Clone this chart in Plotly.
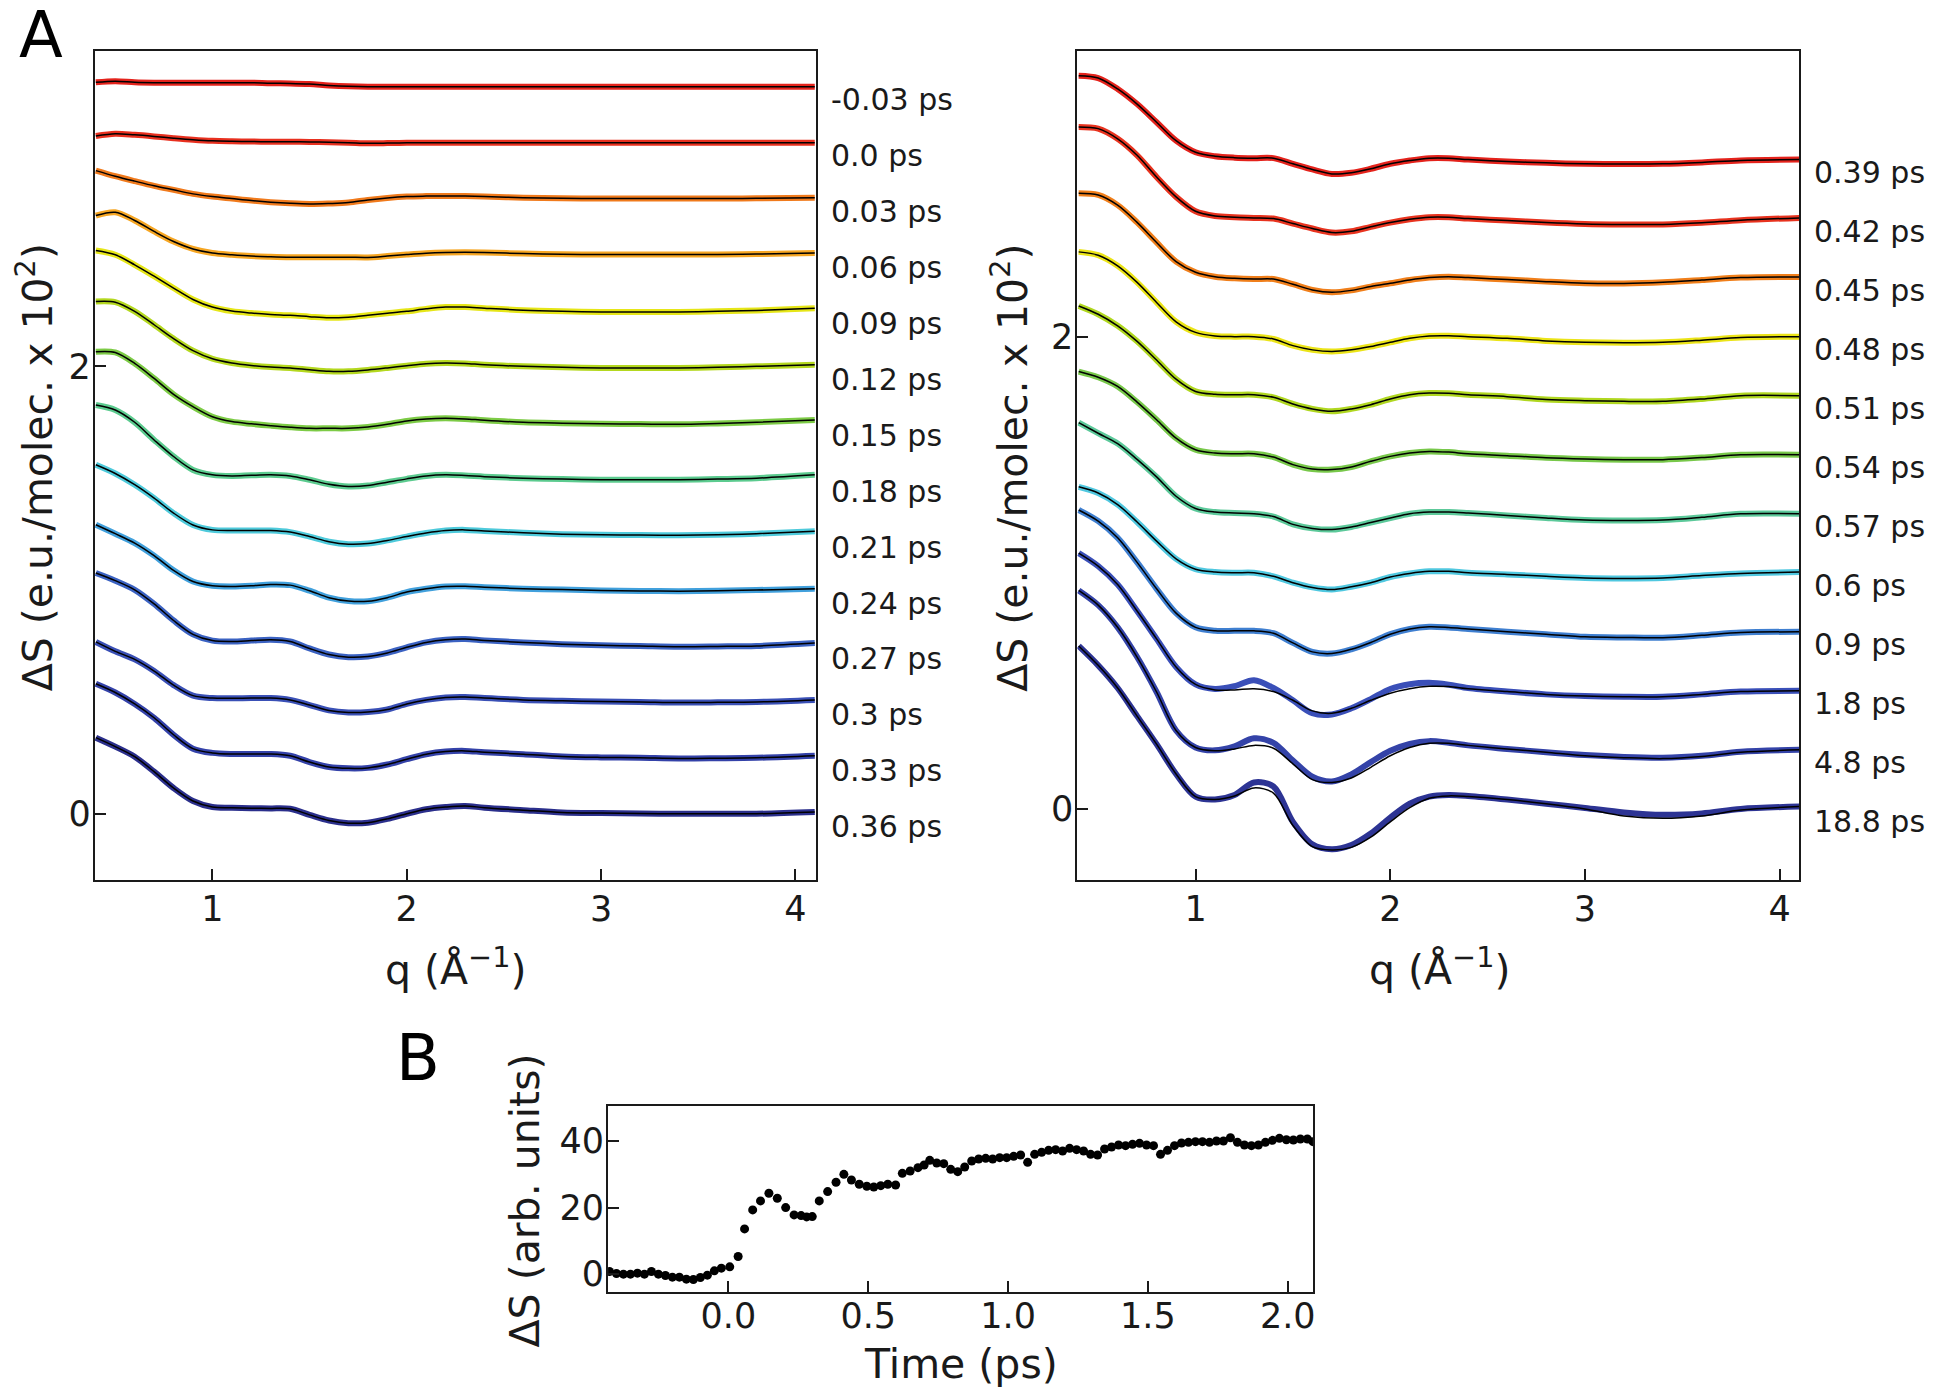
import plotly.graph_objects as go

W, H = 1933, 1391
BODY = 8  # default page margin of the html body
FW, FH = W - BODY, H - BODY
FONT = "DejaVu Sans"

# ---------------- data ----------------
# q knots (1/Angstrom) at which the curves were read off the picture
Q = [0.4, 0.5, 0.6, 0.7, 0.8, 0.9, 1.0, 1.1, 1.2, 1.3, 1.4, 1.5, 1.6, 1.7, 1.8, 1.9,
     2.0, 2.1, 2.2, 2.3, 2.4, 2.6, 2.8, 3.0, 3.2, 3.4, 3.6, 3.8, 4.1]

OFFSET_STEP = 0.25  # vertical stacking step between curves (e.u./molec. x 10^2)

# Left panel, deviation from each curve's own baseline
left_m003 = [0.02, 0.025, 0.02, 0.018, 0.018, 0.018, 0.018, 0.018, 0.018, 0.016, 0.015, 0.012, 0.006, 0.002, 0, 0, 0, 0, 0, 0, 0, 0, 0, 0, 0, 0, 0, 0, 0]
left_p000 = [0.03, 0.04, 0.035, 0.028, 0.02, 0.013, 0.008, 0.006, 0.005, 0.004, 0.004, 0.003, 0.002, 0, -0.003, -0.002, 0, 0, 0, 0, 0, 0, 0, 0, 0, 0, 0, 0, 0]
left_p003 = [0.125, 0.1, 0.078, 0.057, 0.039, 0.021, 0.009, 0, -0.009, -0.016, -0.021, -0.024, -0.022, -0.018, -0.006, 0.003, 0.009, 0.011, 0.012, 0.011, 0.009, 0.004, 0.002, 0, 0, 0, 0, 0.001, 0.004]
left_p006 = [0.174, 0.189, 0.152, 0.103, 0.058, 0.025, 0.007, -0.001, -0.007, -0.01, -0.012, -0.012, -0.012, -0.012, -0.013, -0.007, 0, 0.006, 0.009, 0.01, 0.009, 0.004, 0.001, 0, 0, 0, 0, 0.002, 0.007]
left_p009 = [0.268, 0.249, 0.204, 0.153, 0.1, 0.049, 0.015, -0.003, -0.012, -0.018, -0.022, -0.028, -0.033, -0.03, -0.022, -0.013, -0.004, 0.007, 0.015, 0.015, 0.01, 0.001, -0.004, -0.007, -0.007, -0.007, -0.004, 0, 0.01]
left_p012 = [0.29, 0.287, 0.246, 0.186, 0.124, 0.07, 0.034, 0.015, 0.004, -0.003, -0.007, -0.015, -0.022, -0.022, -0.016, -0.007, 0.003, 0.012, 0.015, 0.013, 0.007, 0, -0.004, -0.007, -0.007, -0.007, -0.004, 0, 0.007]
left_p015 = [0.315, 0.312, 0.263, 0.196, 0.125, 0.07, 0.025, 0.003, -0.007, -0.015, -0.022, -0.027, -0.027, -0.027, -0.021, -0.009, 0.006, 0.015, 0.018, 0.015, 0.009, 0, -0.004, -0.007, -0.008, -0.009, -0.005, 0, 0.01]
left_p018 = [0.327, 0.305, 0.25, 0.171, 0.097, 0.037, 0.015, 0.01, 0.013, 0.015, 0.01, -0.007, -0.027, -0.037, -0.033, -0.018, -0.003, 0.01, 0.015, 0.012, 0.007, 0, -0.004, -0.007, -0.007, -0.007, -0.004, 0, 0.015]
left_p021 = [0.31, 0.271, 0.221, 0.161, 0.094, 0.041, 0.019, 0.016, 0.016, 0.016, 0.009, -0.011, -0.034, -0.045, -0.042, -0.028, -0.011, 0.005, 0.016, 0.019, 0.014, 0.006, 0, -0.003, -0.004, -0.005, -0.003, 0.002, 0.013]
left_p024 = [0.292, 0.252, 0.21, 0.154, 0.088, 0.038, 0.019, 0.016, 0.019, 0.025, 0.022, -0.003, -0.034, -0.049, -0.05, -0.034, -0.009, 0.006, 0.016, 0.017, 0.013, 0.006, 0.002, -0.002, -0.004, -0.005, -0.003, 0, 0.006]
left_p027 = [0.326, 0.292, 0.251, 0.188, 0.114, 0.052, 0.024, 0.02, 0.024, 0.028, 0.02, -0.011, -0.038, -0.05, -0.047, -0.031, -0.006, 0.016, 0.028, 0.031, 0.025, 0.016, 0.008, 0.003, 0, -0.003, -0.002, 0, 0.013]
left_p030 = [0.268, 0.226, 0.19, 0.138, 0.075, 0.028, 0.017, 0.016, 0.017, 0.017, 0.009, -0.014, -0.038, -0.047, -0.045, -0.034, -0.009, 0.009, 0.02, 0.022, 0.017, 0.009, 0.005, 0.002, 0, -0.003, -0.002, 0, 0.009]
left_p033 = [0.331, 0.292, 0.241, 0.179, 0.103, 0.041, 0.022, 0.017, 0.017, 0.017, 0.009, -0.019, -0.041, -0.047, -0.045, -0.03, -0.006, 0.016, 0.028, 0.031, 0.025, 0.016, 0.006, 0.002, 0, -0.003, -0.002, 0, 0.009]
left_p036 = [0.34, 0.3, 0.255, 0.188, 0.115, 0.057, 0.03, 0.027, 0.025, 0.024, 0.022, -0.005, -0.03, -0.042, -0.04, -0.023, 0, 0.02, 0.03, 0.035, 0.027, 0.016, 0.006, 0.003, 0.001, 0, 0, 0, 0.008]

LEFT_LABELS = ["-0.03 ps", "0.0 ps", "0.03 ps", "0.06 ps", "0.09 ps", "0.12 ps", "0.15 ps",
               "0.18 ps", "0.21 ps", "0.24 ps", "0.27 ps", "0.3 ps", "0.33 ps", "0.36 ps"]
LEFT_COLORS = ["#e4231c", "#e8301f", "#f07a1c", "#f6a623", "#e6e618", "#b4d81f", "#7dcb46",
               "#5ccb8f", "#4ecadb", "#41a0dc", "#3b62c2", "#3a50b6", "#3442a9", "#2b2f8c"]
LEFT_DATA = [left_m003, left_p000, left_p003, left_p006, left_p009, left_p012, left_p015,
             left_p018, left_p021, left_p024, left_p027, left_p030, left_p033, left_p036]

# Right panel, deviation from each curve's own baseline (data and fit)
right_039 = [0.355, 0.345, 0.299, 0.235, 0.158, 0.08, 0.031, 0.014, 0.008, 0.006, 0.006, -0.018, -0.042, -0.061, -0.056, -0.039, -0.018, -0.004, 0.006, 0.006, 0, -0.008, -0.014, -0.018, -0.019, -0.018, -0.012, -0.004, 0]
right_042 = [0.388, 0.381, 0.338, 0.268, 0.176, 0.092, 0.031, 0.011, 0.006, 0.003, 0, -0.021, -0.042, -0.059, -0.054, -0.035, -0.017, -0.003, 0.006, 0.006, 0, -0.008, -0.017, -0.023, -0.025, -0.025, -0.018, -0.007, 0.003]
right_045 = [0.357, 0.35, 0.307, 0.234, 0.149, 0.068, 0.023, 0.004, -0.003, -0.006, -0.006, -0.028, -0.052, -0.062, -0.054, -0.038, -0.024, -0.01, 0, 0.004, 0, -0.008, -0.017, -0.024, -0.025, -0.02, -0.01, 0, 0.003]
right_048 = [0.359, 0.345, 0.3, 0.23, 0.145, 0.063, 0.018, 0.003, 0, 0, -0.01, -0.038, -0.056, -0.063, -0.056, -0.042, -0.024, -0.007, 0.003, 0.004, 0, -0.007, -0.018, -0.024, -0.026, -0.024, -0.015, -0.004, 0]
right_051 = [0.38, 0.345, 0.296, 0.23, 0.151, 0.07, 0.018, 0.006, 0.004, 0.004, -0.007, -0.035, -0.056, -0.066, -0.056, -0.038, -0.014, 0.004, 0.011, 0.01, 0.004, -0.004, -0.016, -0.021, -0.024, -0.024, -0.014, 0, 0]
right_054 = [0.352, 0.328, 0.289, 0.223, 0.148, 0.07, 0.021, 0.007, 0.004, 0.004, -0.01, -0.042, -0.061, -0.063, -0.052, -0.028, -0.007, 0.007, 0.014, 0.011, 0.004, -0.004, -0.013, -0.018, -0.021, -0.021, -0.012, 0, 0]
right_057 = [0.386, 0.341, 0.297, 0.23, 0.156, 0.074, 0.022, 0.007, 0.003, 0, -0.012, -0.045, -0.062, -0.067, -0.056, -0.037, -0.018, 0, 0.007, 0.007, 0.003, -0.007, -0.018, -0.027, -0.029, -0.027, -0.015, 0, 0]
right_060 = [0.364, 0.338, 0.289, 0.215, 0.134, 0.059, 0.015, 0.003, 0, 0, -0.015, -0.042, -0.062, -0.071, -0.059, -0.042, -0.018, -0.003, 0.006, 0.006, 0, -0.007, -0.015, -0.022, -0.024, -0.022, -0.012, -0.003, 0.003]
right_090 = [0.516, 0.469, 0.398, 0.294, 0.182, 0.079, 0.019, 0.004, 0.004, 0.004, -0.006, -0.047, -0.085, -0.092, -0.074, -0.045, -0.01, 0.012, 0.021, 0.018, 0.012, 0, -0.01, -0.021, -0.024, -0.025, -0.015, -0.003, 0]
right_180_data = [0.583, 0.528, 0.45, 0.338, 0.22, 0.101, 0.027, 0.008, 0.02, 0.045, 0.012, -0.04, -0.095, -0.1, -0.074, -0.035, 0.008, 0.028, 0.034, 0.026, 0.012, -0.003, -0.015, -0.022, -0.025, -0.025, -0.015, -0.003, 0]
right_180_fit = [0.583, 0.528, 0.45, 0.338, 0.22, 0.101, 0.027, 0.004, 0.004, 0.009, -0.003, -0.04, -0.085, -0.095, -0.074, -0.04, -0.01, 0.009, 0.019, 0.018, 0.009, -0.003, -0.015, -0.022, -0.025, -0.025, -0.015, -0.003, 0]
right_480_data = [0.675, 0.613, 0.519, 0.393, 0.245, 0.082, 0.01, -0.002, 0.015, 0.049, 0.03, -0.045, -0.114, -0.134, -0.104, -0.052, -0.004, 0.025, 0.037, 0.03, 0.019, 0.004, -0.01, -0.022, -0.03, -0.033, -0.025, -0.008, 0]
right_480_fit = [0.675, 0.613, 0.519, 0.393, 0.245, 0.082, 0.01, -0.004, 0.004, 0.019, 0.007, -0.059, -0.126, -0.138, -0.119, -0.074, -0.025, 0.01, 0.028, 0.028, 0.019, 0.004, -0.01, -0.025, -0.033, -0.037, -0.028, -0.01, 0]
right_1880_data = [0.69, 0.608, 0.512, 0.393, 0.274, 0.148, 0.052, 0.04, 0.059, 0.112, 0.095, -0.055, -0.15, -0.171, -0.153, -0.104, -0.037, 0.022, 0.052, 0.059, 0.055, 0.04, 0.022, 0.004, -0.015, -0.025, -0.019, 0, 0.01]
right_1880_fit = [0.69, 0.608, 0.512, 0.393, 0.274, 0.148, 0.052, 0.04, 0.055, 0.089, 0.067, -0.07, -0.16, -0.174, -0.163, -0.12, -0.055, 0.005, 0.045, 0.055, 0.052, 0.04, 0.022, 0.0, -0.03, -0.04, -0.03, -0.005, 0.01]

RIGHT_LABELS = ["0.39 ps", "0.42 ps", "0.45 ps", "0.48 ps", "0.51 ps", "0.54 ps", "0.57 ps",
                "0.6 ps", "0.9 ps", "1.8 ps", "4.8 ps", "18.8 ps"]
RIGHT_COLORS = ["#e4231c", "#e8331f", "#f07f1b", "#ebe418", "#b0d720", "#78c84a", "#5cc99a",
                "#50c8e0", "#3f7fd0", "#3a4fb8", "#3443a8", "#2d3494"]
RIGHT_DATA = [right_039, right_042, right_045, right_048, right_051, right_054, right_057,
              right_060, right_090, right_180_data, right_480_data, right_1880_data]
RIGHT_FIT = [right_039, right_042, right_045, right_048, right_051, right_054, right_057,
             right_060, right_090, right_180_fit, right_480_fit, right_1880_fit]

# Panel B: time trace
TIME = [-0.425, -0.40, -0.375, -0.35, -0.325, -0.30, -0.275, -0.25, -0.225, -0.20, -0.175,
        -0.15, -0.125, -0.10, -0.075, -0.05, -0.025, 0.005, 0.035, 0.058, 0.087, 0.115,
        0.145, 0.175, 0.205, 0.235, 0.26, 0.28, 0.30, 0.325, 0.355, 0.385, 0.413, 0.44,
        0.468, 0.495, 0.52, 0.545, 0.57, 0.598, 0.622, 0.65, 0.678, 0.70, 0.72, 0.745,
        0.77, 0.795, 0.82, 0.845, 0.87, 0.895, 0.92, 0.945, 0.97, 0.995, 1.02, 1.045,
        1.07, 1.095, 1.12, 1.145, 1.17, 1.195, 1.22, 1.245, 1.27, 1.295, 1.32, 1.345,
        1.37, 1.395, 1.42, 1.445, 1.47, 1.495, 1.52, 1.545, 1.57, 1.595, 1.62, 1.645,
        1.67, 1.695, 1.72, 1.745, 1.77, 1.795, 1.82, 1.845, 1.87, 1.895, 1.92, 1.945,
        1.97, 1.995, 2.02, 2.045, 2.07, 2.09]
SIGNAL = [0.8, 0.2, 0.0, 0.0, 0.3, 0.0, 0.8, 0.0, -0.4, -0.9, -0.9,
          -1.5, -1.6, -1.0, -0.3, 1.0, 1.8, 2.2, 5.3, 13.6, 19.3, 22.0,
          24.3, 22.8, 20.0, 17.8, 17.6, 17.2, 17.3, 22.0, 24.8, 27.6, 30.0, 28.3,
          27.0, 26.4, 26.2, 26.6, 27.0, 26.8, 30.3, 31.0, 32.0, 32.8, 34.2, 33.4,
          33.2, 31.5, 30.8, 32.2, 34.0, 34.6, 34.8, 34.6, 35.0, 35.0, 35.4, 35.8,
          33.6, 36.0, 36.6, 37.2, 37.4, 37.0, 37.8, 37.4, 37.0, 36.0, 35.8, 37.6,
          38.2, 38.8, 38.6, 39.0, 39.3, 38.8, 38.6, 36.0, 37.2, 38.6, 39.4, 39.6,
          39.8, 39.8, 39.6, 40.0, 40.0, 41.0, 39.6, 38.8, 38.6, 38.8, 39.6, 40.2,
          40.8, 40.4, 40.3, 40.6, 40.6, 39.8]

# ---------------- helpers ----------------
def px(x):
    return (x - BODY) / FW


def py(y):
    return 1 - (y - BODY) / FH


fig = go.Figure()

n_left = len(LEFT_DATA)
for i, (rel, col) in enumerate(zip(LEFT_DATA, LEFT_COLORS)):
    off = OFFSET_STEP * (n_left - 1 - i)
    yv = [v + off for v in rel]
    fig.add_trace(go.Scatter(x=Q, y=yv, mode="lines", xaxis="x", yaxis="y",
                             line=dict(color=col, width=6, shape="spline", smoothing=0.9)))
    fig.add_trace(go.Scatter(x=Q, y=yv, mode="lines", xaxis="x", yaxis="y",
                             line=dict(color="black", width=1.5, shape="spline", smoothing=0.9)))

n_right = len(RIGHT_DATA)
for i, (rel, fit, col) in enumerate(zip(RIGHT_DATA, RIGHT_FIT, RIGHT_COLORS)):
    off = OFFSET_STEP * (n_right - 1 - i)
    fig.add_trace(go.Scatter(x=Q, y=[v + off for v in rel], mode="lines", xaxis="x2", yaxis="y2",
                             line=dict(color=col, width=6, shape="spline", smoothing=0.9)))
    fig.add_trace(go.Scatter(x=Q, y=[v + off for v in fit], mode="lines", xaxis="x2", yaxis="y2",
                             line=dict(color="black", width=1.5, shape="spline", smoothing=0.9)))

fig.add_trace(go.Scatter(x=TIME, y=SIGNAL, mode="markers", xaxis="x3", yaxis="y3",
                         marker=dict(color="black", size=9)))

axis_common = dict(showline=True, mirror=True, linecolor="#1a1a1a", linewidth=2,
                   ticks="inside", ticklen=11, tickwidth=1.5, tickcolor="#1a1a1a",
                   showgrid=False, zeroline=False,
                   tickfont=dict(family=FONT, size=35, color="#1a1a1a"))

ydom = [py(881), py(51)]
fig.update_layout(
    width=FW, height=FH, margin=dict(l=0, r=0, t=0, b=0),
    paper_bgcolor="white", plot_bgcolor="white", showlegend=False,
    xaxis=dict(domain=[px(95), px(817)], range=[0.395, 4.105], tickvals=[1, 2, 3, 4],
               anchor="y", ticklabelstandoff=-3, **axis_common),
    yaxis=dict(domain=ydom, range=[-0.295, 3.41], tickvals=[0, 2], anchor="x",
               ticklabelstandoff=-5, **axis_common),
    xaxis2=dict(domain=[px(1079), px(1802)], range=[0.393, 4.10], tickvals=[1, 2, 3, 4],
                anchor="y2", ticklabelstandoff=-3, **axis_common),
    yaxis2=dict(domain=ydom, range=[-0.30, 3.21], tickvals=[0, 2], anchor="x2",
                ticklabelstandoff=-5, **axis_common),
    xaxis3=dict(domain=[px(609), px(1315)], range=[-0.43, 2.09], tickvals=[0, 0.5, 1, 1.5, 2],
                ticktext=["0.0", "0.5", "1.0", "1.5", "2.0"], anchor="y3",
                ticklabelstandoff=-8, **axis_common),
    yaxis3=dict(domain=[py(1294), py(1108)], range=[-5.4, 50.4], tickvals=[0, 20, 40],
                anchor="x3", ticklabelstandoff=-5, **axis_common),
)

ann = []
# delay labels
for i, lab in enumerate(LEFT_LABELS):
    off = OFFSET_STEP * (n_left - 1 - i)
    ann.append(dict(text=lab, x=px(830), xref="paper", y=off, yref="y", xanchor="left",
                    yanchor="middle", yshift=-13, showarrow=False,
                    font=dict(family=FONT, size=30, color="#1a1a1a")))
for i, lab in enumerate(RIGHT_LABELS):
    off = OFFSET_STEP * (n_right - 1 - i)
    ann.append(dict(text=lab, x=px(1815), xref="paper", y=off, yref="y2", xanchor="left",
                    yanchor="middle", yshift=-13, showarrow=False,
                    font=dict(family=FONT, size=30, color="#1a1a1a")))

title_font = dict(family=FONT, size=41, color="#1a1a1a")
ann += [
    dict(text="A", x=px(41), y=py(35), xref="paper", yref="paper", showarrow=False,
         xanchor="center", yanchor="middle", font=dict(family=FONT, size=64, color="black")),
    dict(text="B", x=px(419), y=py(1060), xref="paper", yref="paper", showarrow=False,
         xanchor="center", yanchor="middle", font=dict(family=FONT, size=64, color="black")),
    dict(text="ΔS (e.u./molec. x 10<sup>2</sup>)", x=px(35), y=py(468), xref="paper",
         yref="paper", textangle=-90, showarrow=False, xanchor="center", yanchor="middle",
         font=title_font),
    dict(text="ΔS (e.u./molec. x 10<sup>2</sup>)", x=px(1012), y=py(468), xref="paper",
         yref="paper", textangle=-90, showarrow=False, xanchor="center", yanchor="middle",
         font=title_font),
    dict(text="q (Å<sup>−1</sup>)", x=px(456), y=py(968), xref="paper", yref="paper",
         showarrow=False, xanchor="center", yanchor="middle", font=title_font),
    dict(text="q (Å<sup>−1</sup>)", x=px(1442), y=py(968), xref="paper", yref="paper",
         showarrow=False, xanchor="center", yanchor="middle", font=title_font),
    dict(text="Time (ps)", x=px(962), y=py(1366), xref="paper", yref="paper",
         showarrow=False, xanchor="center", yanchor="middle", font=title_font),
    dict(text="ΔS (arb. units)", x=px(526), y=py(1202), xref="paper", yref="paper",
         textangle=-90, showarrow=False, xanchor="center", yanchor="middle", font=title_font),
]
fig.update_layout(annotations=ann)

fig.write_html("out.html")
